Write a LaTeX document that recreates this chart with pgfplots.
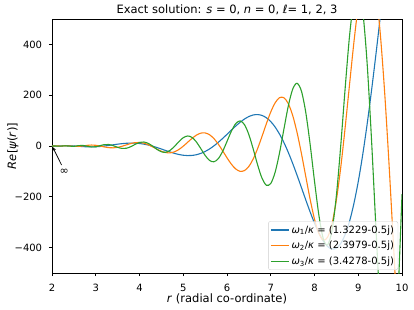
\documentclass[border=0pt]{standalone}
\usepackage{fontspec}
\setmainfont{DejaVu Sans}
\usepackage{pgfplots}
\pgfplotsset{compat=1.18}
\usepackage{pgfplotstable}
\usetikzlibrary{arrows.meta}
\definecolor{cA}{HTML}{1F77B4}
\definecolor{cB}{HTML}{FF7F0E}
\definecolor{cC}{HTML}{2CA02C}

\pgfplotstableread{
r psi
2.0 0
2.1 -0.28
2.2 0.13
2.3 0.94
2.4 0.97
2.5 0.17
2.6 -1.09
2.7 -2.35
2.8 -3.24
2.9 -3.51
3.0 -3.03
3.1 -1.82
3.2 0.02
3.3 2.30
3.4 4.79
3.5 7.22
3.6 9.31
3.7 10.81
3.8 11.50
3.9 11.21
4.0 9.84
4.1 7.34
4.2 3.78
4.3 -0.75
4.4 -6.05
4.5 -11.85
4.6 -17.88
4.7 -23.69
4.8 -28.99
4.9 -33.34
5.0 -36.38
5.1 -37.74
5.2 -37.14
5.3 -34.33
5.4 -29.19
5.5 -21.58
5.6 -11.67
5.7 0.42
5.8 14.34
5.9 29.75
6.0 46.00
6.1 62.64
6.2 78.62
6.3 93.45
6.4 106.21
6.5 116.05
6.6 122.17
6.7 123.82
6.8 120.34
6.9 111.21
7.0 96.15
7.1 74.69
7.2 47.14
7.3 13.78
7.4 -24.88
7.5 -67.98
7.6 -114.55
7.7 -163.0
7.8 -212.0
7.9 -259.5
8.0 -303.7
8.1 -342.6
8.2 -373.9
8.3 -395.6
8.4 -405.7
8.5 -402.3
8.6 -383.8
8.7 -348.9
8.8 -297.0
8.9 -227.0
9.0 -140.1
9.1 -36.5
9.2 82.2
9.3 213.8
9.4 355.2
9.5 503.4
9.6 654.8
9.7 802.0
}\blue

\pgfplotstableread{
r psi
2.0 0
2.1 0.27
2.2 -0.46
2.3 0.92
2.4 0.28
2.5 -1.56
2.6 -1.76
2.7 0.11
2.8 2.61
2.9 3.79
3.0 2.75
3.1 -0.19
3.2 -3.80
3.3 -6.55
3.4 -7.22
3.5 -5.27
3.6 -1.05
3.7 4.43
3.8 9.69
3.9 13.23
4.0 13.89
4.1 11.09
4.2 5.04
4.3 -3.30
4.4 -12.45
4.5 -20.55
4.6 -25.82
4.7 -26.83
4.8 -22.80
4.9 -13.81
5.0 -0.75
5.1 14.60
5.2 29.98
5.3 42.74
5.4 50.57
5.5 51.49
5.6 44.44
5.7 29.38
5.8 7.58
5.9 -18.73
6.0 -46.39
6.1 -71.56
6.2 -90.52
6.3 -99.73
6.4 -96.68
6.5 -80.16
6.6 -50.61
6.7 -9.94
6.8 37.84
6.9 87.83
7.0 133.90
7.1 169.91
7.2 190.16
7.3 190.11
7.4 167.13
7.5 121.10
7.6 54.05
7.7 -28.71
7.8 -119.54
7.9 -209.68
8.0 -287.95
8.1 -344.52
8.2 -370.5
8.3 -358.9
8.4 -306.3
8.5 -212.8
8.6 -83.8
8.7 71.8
8.8 240.7
8.9 407.3
9.0 552.2
9.1 659.2
9.2 711.8
9.3 697.7
9.4 610.0
9.5 448.9
9.6 219.9
9.7 -61.2
9.8 -372.8
9.9 -688.5
10.0 -975.6
}\orange

\pgfplotstableread{
r psi
2.0 0
2.1 -0.19
2.2 -0.56
2.3 0.88
2.4 -0.49
2.5 -1.36
2.6 1.41
2.7 2.33
2.8 -0.69
2.9 -3.76
3.0 -2.93
3.1 1.45
3.2 5.59
3.3 5.79
3.4 1.34
3.5 -5.16
3.6 -9.58
3.7 -8.85
3.8 -2.67
3.9 6.28
4.0 13.69
4.1 15.63
4.2 10.43
4.3 -0.58
4.4 -13.34
4.5 -22.77
4.6 -24.56
4.7 -16.94
4.8 -1.54
4.9 17.08
5.0 32.71
5.1 39.48
5.2 33.88
5.3 16.06
5.4 -9.87
5.5 -36.88
5.6 -56.61
5.7 -62.22
5.8 -50.10
5.9 -21.36
6.0 17.97
6.1 58.32
6.2 88.35
6.3 98.74
6.4 83.99
6.5 44.60
6.6 -12.30
6.7 -74.48
6.8 -126.68
6.9 -154.34
7.0 -147.56
7.1 -103.37
7.2 -27.61
7.3 65.66
7.4 156.71
7.5 223.18
7.6 247.02
7.7 216.94
7.8 132.67
7.9 6.71
8.0 -138.41
8.1 -272.29
8.2 -364.76
8.3 -389.3
8.4 -332.2
8.5 -195.4
8.6 2.2
8.7 226.0
8.8 432.1
8.9 574.8
9.0 616.5
9.1 535.6
9.2 332.9
9.3 35.5
9.4 -309.0
9.5 -636.7
9.6 -878.3
9.7 -976.6
9.8 -892.6
9.9 -620.1
10.0 -190.0
}\green

\begin{document}
\begin{tikzpicture}
\path[use as bounding box] (-52pt,-36pt) rectangle (362pt,273pt);
\begin{axis}[
  at={(0,0)}, anchor=south west,
  scale only axis, width=350pt, height=254pt,
  xmin=2, xmax=10, ymin=-500, ymax=500,
  axis line style={black, line width=0.7pt},
  tick align=outside, xtick pos=bottom, ytick pos=left,
  major tick length=3.2pt,
  every tick/.style={black, line width=0.7pt},
  xtick={2,3,4,5,6,7,8,9,10},
  xticklabels={2,3,4,5,6,7,8,9,10},
  ytick={-400,-200,0,200,400},
  yticklabels={−400,−200,0,200,400},
  xticklabel style={font=\fontsize{10}{12}\selectfont, anchor=base, yshift=-15pt, inner sep=0pt},
  yticklabel style={font=\fontsize{10}{12}\selectfont, anchor=east, xshift=-6.5pt, inner sep=0pt},
  title={Exact solution: \textit{s} = 0, \textit{n} = 0, \textit{ℓ}= 1, 2, 3},
  every axis title/.style={at={(axis description cs:0.5,1)}, anchor=base, yshift=5.5pt, inner sep=0pt, font=\fontsize{11.5}{13}\selectfont},
  xlabel={\textit{r} (radial co-ordinate)},
  xlabel style={at={(axis description cs:0.5,0)}, anchor=base, yshift=-29pt, inner sep=0pt, font=\fontsize{11.5}{13}\selectfont},
  ylabel={\textit{Re}[\textit{ψ}(\textit{r})]},
  ylabel style={at={(axis description cs:0,0.5)}, anchor=center, yshift=39pt, inner sep=0pt, font=\fontsize{11.5}{13}\selectfont},
  legend style={at={(0.989,0.012)}, anchor=south east, draw=black!20, fill=white, fill opacity=0.8, text opacity=1, rounded corners=2pt, font=\fontsize{10}{12}\selectfont, inner xsep=2pt, inner ysep=2pt, row sep=2.5pt, nodes={inner sep=2pt}},
  legend cell align=left,
  legend image code/.code={\draw[#1, line width=1.1pt] (0pt,0pt) -- (18pt,0pt);},
]
\addplot[cA, line width=1.1pt, smooth] table[x=r, y=psi] {\blue};
\addlegendentry{\textit{ω}\textsubscript{1}/\textit{κ} = (1.3229-0.5j)}
\addplot[cB, line width=1.1pt, smooth] table[x=r, y=psi] {\orange};
\addlegendentry{\textit{ω}\textsubscript{2}/\textit{κ} = (2.3979-0.5j)}
\addplot[cC, line width=1.1pt, smooth] table[x=r, y=psi] {\green};
\addlegendentry{\textit{ω}\textsubscript{3}/\textit{κ} = (3.4278-0.5j)}
\draw[-{Stealth[length=4pt,width=3.5pt]}, black, line width=0.7pt] (axis cs:2.22,-75) -- (axis cs:2.015,-4);
\node[font=\fontsize{11}{12}\selectfont, inner sep=0pt] at (axis cs:2.28,-102) {∞};
\end{axis}
\end{tikzpicture}
\end{document}
